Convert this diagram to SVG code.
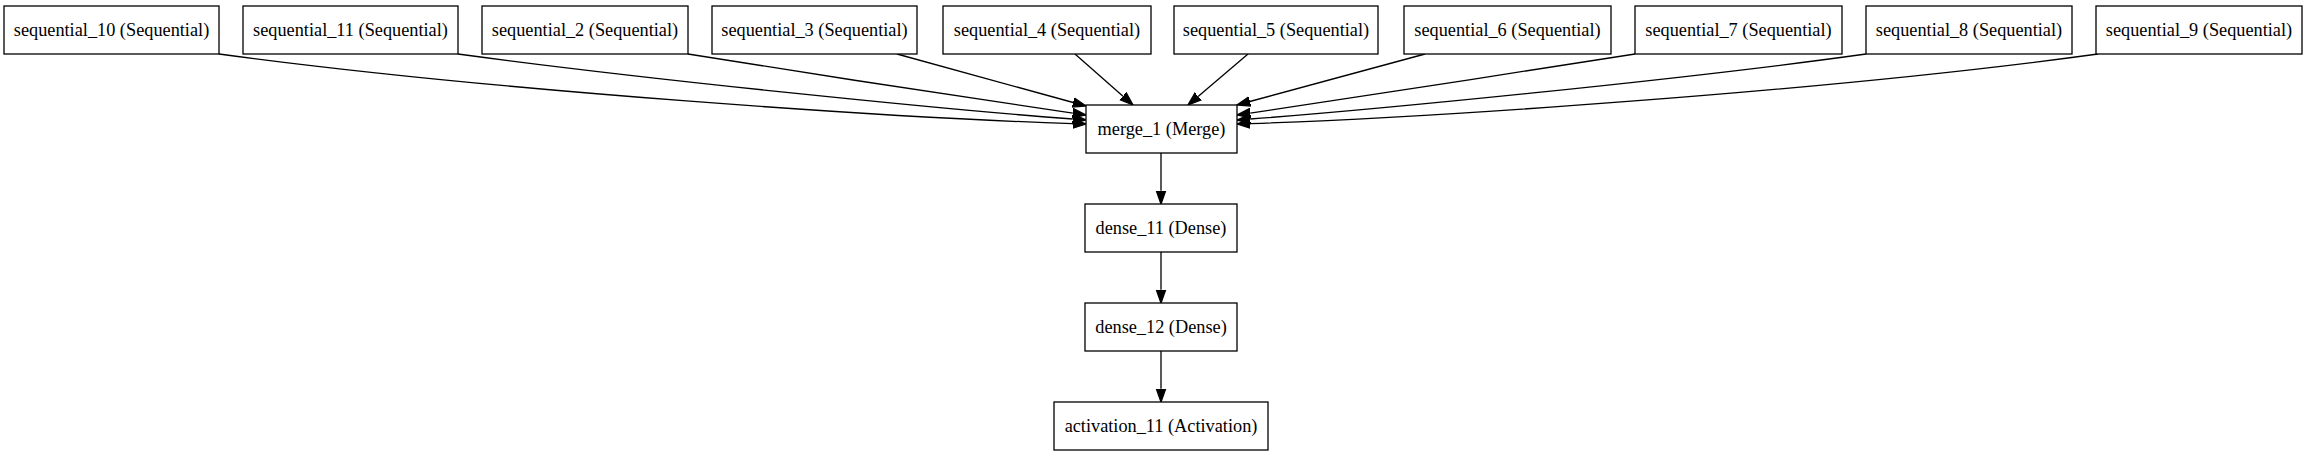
<svg xmlns="http://www.w3.org/2000/svg" width="2308" height="456" viewBox="0 0 2308 456">
<style>
  .node rect { fill: #ffffff; stroke: #000000; stroke-width: 1.3; }
  .node text { font-family: "Liberation Serif", "Times New Roman", serif; font-size: 18.3px; fill: #000000; text-anchor: middle; }
  .edge { fill: none; stroke: #000000; stroke-width: 1.3; marker-end: url(#arrow); }
</style>
<defs>
  <marker id="arrow" markerUnits="userSpaceOnUse" viewBox="0 -6 15 12" refX="0" refY="0" markerWidth="15" markerHeight="12" orient="auto">
    <path d="M0,-4.7 L13.3,0 L0,4.7 z" fill="#000000" stroke="#000000" stroke-width="1.3"/>
  </marker>
</defs>
<rect x="0" y="0" width="2308" height="456" fill="#ffffff"/>
<g id="connectors">
  <path class="edge" d="M219,54 C500,92 900,118 1072.7,123.6"/>
  <path class="edge" d="M458,54 C650,80 950,110 1072.7,119"/>
  <path class="edge" d="M688,54 C800,72 1000,103 1072.8,113.2"/>
  <path class="edge" d="M897,54 L1073.2,102.5"/>
  <path class="edge" d="M1075,54 L1123,96.2"/>
  <path class="edge" d="M1248,54 L1198.1,96.4"/>
  <path class="edge" d="M1425,54 L1249.8,101.5"/>
  <path class="edge" d="M1635,54 C1520,72 1320,103 1250.2,113.1"/>
  <path class="edge" d="M1866,54 C1680,80 1370,110 1250.3,119"/>
  <path class="edge" d="M2098,54 C1820,92 1422,118 1250.3,123.6"/>
  <path class="edge" d="M1161,153 L1161,190.7"/>
  <path class="edge" d="M1161,252 L1161,289.7"/>
  <path class="edge" d="M1161,351 L1161,388.7"/>
</g>
<g id="sequential_10" class="node"><rect x="4" y="6" width="215" height="48"/><text x="111.5" y="36">sequential_10 (Sequential)</text></g>
<g id="sequential_11" class="node"><rect x="243" y="6" width="215" height="48"/><text x="350.5" y="36">sequential_11 (Sequential)</text></g>
<g id="sequential_2" class="node"><rect x="482" y="6" width="206" height="48"/><text x="585" y="36">sequential_2 (Sequential)</text></g>
<g id="sequential_3" class="node"><rect x="712" y="6" width="205" height="48"/><text x="814.5" y="36">sequential_3 (Sequential)</text></g>
<g id="sequential_4" class="node"><rect x="943" y="6" width="208" height="48"/><text x="1047" y="36">sequential_4 (Sequential)</text></g>
<g id="sequential_5" class="node"><rect x="1174" y="6" width="204" height="48"/><text x="1276" y="36">sequential_5 (Sequential)</text></g>
<g id="sequential_6" class="node"><rect x="1404" y="6" width="207" height="48"/><text x="1507.5" y="36">sequential_6 (Sequential)</text></g>
<g id="sequential_7" class="node"><rect x="1635" y="6" width="207" height="48"/><text x="1738.5" y="36">sequential_7 (Sequential)</text></g>
<g id="sequential_8" class="node"><rect x="1866" y="6" width="206" height="48"/><text x="1969" y="36">sequential_8 (Sequential)</text></g>
<g id="sequential_9" class="node"><rect x="2096" y="6" width="206" height="48"/><text x="2199" y="36">sequential_9 (Sequential)</text></g>
<g id="merge_1" class="node"><rect x="1086" y="105" width="151" height="48"/><text x="1161.5" y="135">merge_1 (Merge)</text></g>
<g id="dense_11" class="node"><rect x="1085" y="204" width="152" height="48"/><text x="1161" y="234">dense_11 (Dense)</text></g>
<g id="dense_12" class="node"><rect x="1085" y="303" width="152" height="48"/><text x="1161" y="333">dense_12 (Dense)</text></g>
<g id="activation_11" class="node"><rect x="1054" y="402" width="214" height="48"/><text x="1161" y="432">activation_11 (Activation)</text></g>
</svg>
